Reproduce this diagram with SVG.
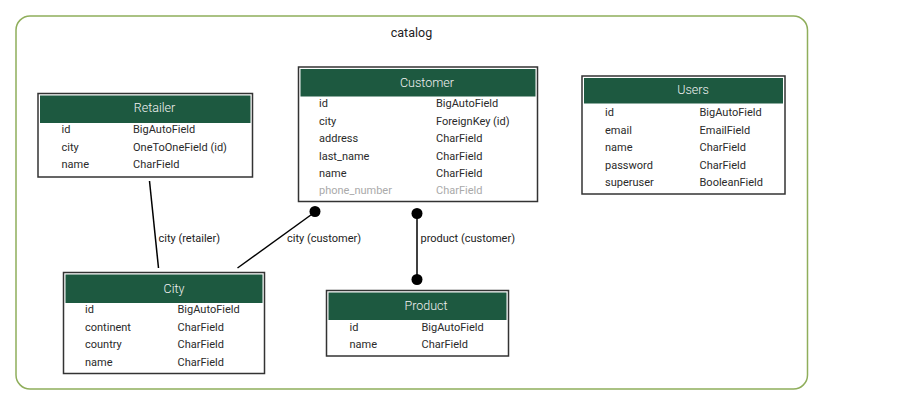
<svg xmlns="http://www.w3.org/2000/svg" width="899" height="405" viewBox="0 0 899 405">
<style>
.tbl{fill:#fff;stroke:#333;stroke-width:1.5}
.hdr{fill:#1d5940}
.ht{font-family:Roboto,"Liberation Sans",sans-serif;font-size:12.5px;font-weight:300;fill:#f2f2f2;text-anchor:middle}
.f{font-family:Roboto,"Liberation Sans",sans-serif;font-size:11px;fill:#2a2a2a}
.g{fill:#aaa}
.lbl{font-family:Roboto,"Liberation Sans",sans-serif;font-size:11px;fill:#222}
.edge{stroke:#000;stroke-width:1.5;fill:none}
.dot{fill:#000}
</style>
<rect width="899" height="405" fill="#fff"/>
<g id="cluster_catalog">
<rect x="16" y="16" width="791.5" height="373" rx="14" ry="14" fill="none" stroke="#8fae5b" stroke-width="1.5"/>
<text x="411.5" y="37" class="lbl" style="font-size:12.5px" text-anchor="middle">catalog</text>
</g>
<g id="connectors">
<line class="edge" x1="149.5" y1="181" x2="158.5" y2="268"/>
<text class="lbl" x="158.5" y="241.5">city (retailer)</text>
<line class="edge" x1="315" y1="212" x2="237.5" y2="268"/>
<circle class="dot" cx="315" cy="211.5" r="5.5"/>
<text class="lbl" x="287" y="241.5">city (customer)</text>
<line class="edge" x1="417" y1="213" x2="417" y2="280"/>
<circle class="dot" cx="417" cy="213.5" r="5.5"/>
<circle class="dot" cx="417" cy="279.5" r="5.5"/>
<text class="lbl" x="420.5" y="241.5">product (customer)</text>
</g>
<g id="Retailer">
<rect class="tbl" x="38" y="93.5" width="214.5" height="83.5"/>
<rect class="hdr" x="40" y="95.5" width="210.5" height="27.5"/>
<text class="ht" x="154.5" y="111.5">Retailer</text>
<text class="f" x="61.5" y="133">id</text><text class="f" x="133" y="133">BigAutoField</text>
<text class="f" x="61.5" y="150.5">city</text><text class="f" x="133" y="150.5">OneToOneField (id)</text>
<text class="f" x="61.5" y="168">name</text><text class="f" x="133" y="168">CharField</text>
</g>
<g id="Customer">
<rect class="tbl" x="298.5" y="67" width="239" height="134.5"/>
<rect class="hdr" x="300.5" y="69" width="235" height="27.5"/>
<text class="ht" x="427" y="86.5">Customer</text>
<text class="f" x="319" y="107">id</text><text class="f" x="436" y="107">BigAutoField</text>
<text class="f" x="319" y="124.5">city</text><text class="f" x="436" y="124.5">ForeignKey (id)</text>
<text class="f" x="319" y="142">address</text><text class="f" x="436" y="142">CharField</text>
<text class="f" x="319" y="159.5">last_name</text><text class="f" x="436" y="159.5">CharField</text>
<text class="f" x="319" y="177">name</text><text class="f" x="436" y="177">CharField</text>
<text class="f g" x="319" y="194">phone_number</text><text class="f g" x="436" y="194">CharField</text>
</g>
<g id="Users">
<rect class="tbl" x="582" y="76" width="203" height="118"/>
<rect class="hdr" x="584" y="78" width="199" height="25.5"/>
<text class="ht" x="693" y="94">Users</text>
<text class="f" x="605" y="116">id</text><text class="f" x="699.5" y="116">BigAutoField</text>
<text class="f" x="605" y="133.5">email</text><text class="f" x="699.5" y="133.5">EmailField</text>
<text class="f" x="605" y="151">name</text><text class="f" x="699.5" y="151">CharField</text>
<text class="f" x="605" y="168.5">password</text><text class="f" x="699.5" y="168.5">CharField</text>
<text class="f" x="605" y="186">superuser</text><text class="f" x="699.5" y="186">BooleanField</text>
</g>
<g id="City">
<rect class="tbl" x="63.5" y="272.5" width="201" height="101"/>
<rect class="hdr" x="65.5" y="274.5" width="197" height="28.5"/>
<text class="ht" x="174" y="292.5">City</text>
<text class="f" x="85" y="313">id</text><text class="f" x="177.5" y="313">BigAutoField</text>
<text class="f" x="85" y="330.5">continent</text><text class="f" x="177.5" y="330.5">CharField</text>
<text class="f" x="85" y="348">country</text><text class="f" x="177.5" y="348">CharField</text>
<text class="f" x="85" y="365.5">name</text><text class="f" x="177.5" y="365.5">CharField</text>
</g>
<g id="Product">
<rect class="tbl" x="326.5" y="290.5" width="182" height="65.5"/>
<rect class="hdr" x="328.5" y="292.5" width="178" height="27.5"/>
<text class="ht" x="426" y="309.5">Product</text>
<text class="f" x="349.5" y="330.5">id</text><text class="f" x="421.5" y="330.5">BigAutoField</text>
<text class="f" x="349.5" y="347.5">name</text><text class="f" x="421.5" y="347.5">CharField</text>
</g>
</svg>
